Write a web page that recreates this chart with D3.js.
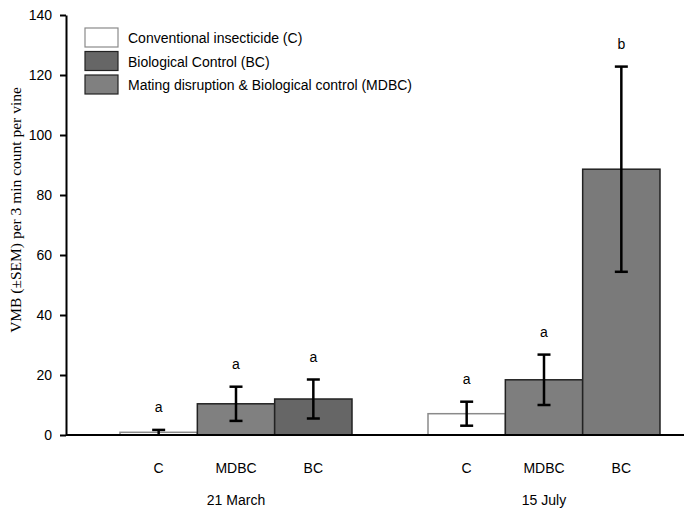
<!DOCTYPE html>
<html>
<head>
<meta charset="utf-8">
<script src="https://cdn.jsdelivr.net/npm/d3@7"></script>
<style>
  body { margin: 0; background: #fff; }
  text { font-family: "Liberation Sans", Arial, sans-serif; }
</style>
</head>
<body>
<div id="chart"></div>
<script>
// data
var dates = ['21 March', '15 July'];
var treatments = ['C', 'MDBC', 'BC'];
var marchMeans = [0.9, 10.4, 12.0];
var marchSem = [0.8, 5.7, 6.5];
var julyMeans = [7.1, 18.4, 88.6];
var julySem = [4.0, 8.4, 34.2];
var marchLetters = ['a', 'a', 'a'];
var julyLetters = ['a', 'a', 'b'];
var yTicks = [0, 20, 40, 60, 80, 100, 120, 140];
var legendLabels = ['Conventional insecticide (C)', 'Biological Control (BC)',
  'Mating disruption & Biological control (MDBC)'];

var fills = {
  '21 March': {C: '#ffffff', MDBC: '#808080', BC: '#666666'},
  '15 July': {C: '#ffffff', MDBC: '#7e7e7e', BC: '#7a7a7a'}
};
var legendFills = ['#ffffff', '#666666', '#808080'];

var width = 684, height = 514;
var margin = {top: 15, right: 0, bottom: 79, left: 66};

var svg = d3.select('#chart').append('svg')
  .attr('width', width)
  .attr('height', height);

var rows = [];
[[marchMeans, marchSem, marchLetters], [julyMeans, julySem, julyLetters]].forEach(function(set, gi) {
  treatments.forEach(function(t, i) {
    rows.push({date: dates[gi], trt: t, mean: set[0][i], sem: set[1][i], letter: set[2][i]});
  });
});

var y = d3.scaleLinear().domain([0, 140]).range([height - margin.bottom, margin.top]);

// each date group is three adjacent bars
var x0 = d3.scaleOrdinal().domain(dates).range([120, 428]);
var x1 = d3.scaleBand().domain(treatments).range([0, 232]);

// y axis
var yAxis = d3.axisLeft(y).tickValues(yTicks).tickSize(6).tickSizeOuter(0).tickPadding(8);
var gy = svg.append('g')
  .attr('transform', 'translate(' + margin.left + ',0)')
  .call(yAxis);
gy.select('.domain').attr('stroke', '#000').attr('stroke-width', 2);
gy.selectAll('.tick line').attr('stroke', '#000').attr('stroke-width', 2);
gy.selectAll('.tick text').style('font-size', '14px').attr('fill', '#000')
  .attr('font-family', '"Liberation Sans", Arial, sans-serif');

// bars
svg.append('g').selectAll('rect')
  .data(rows)
  .enter().append('rect')
  .attr('x', function(d) { return x0(d.date) + x1(d.trt); })
  .attr('width', x1.bandwidth())
  .attr('y', function(d) { return y(d.mean); })
  .attr('height', function(d) { return y(0) - y(d.mean); })
  .attr('fill', function(d) { return fills[d.date][d.trt]; })
  .attr('stroke', function(d) { return d.trt === 'C' ? '#8a8a8a' : '#222'; })
  .attr('stroke-width', 1.5);

// x axis line
svg.append('line')
  .attr('x1', margin.left).attr('x2', width)
  .attr('y1', y(0)).attr('y2', y(0))
  .attr('stroke', '#000').attr('stroke-width', 2);

// error bars
var err = svg.append('g').selectAll('g')
  .data(rows)
  .enter().append('g')
  .attr('transform', function(d) {
    return 'translate(' + (x0(d.date) + x1(d.trt) + x1.bandwidth() / 2) + ',0)';
  });
err.append('line')
  .attr('y1', function(d) { return y(Math.max(0, d.mean - d.sem)); })
  .attr('y2', function(d) { return y(d.mean + d.sem); })
  .attr('stroke', '#000').attr('stroke-width', 2.5);
err.append('line')
  .attr('x1', -6.5).attr('x2', 6.5)
  .attr('y1', function(d) { return y(d.mean + d.sem); })
  .attr('y2', function(d) { return y(d.mean + d.sem); })
  .attr('stroke', '#000').attr('stroke-width', 2.5);
err.filter(function(d) { return d.mean - d.sem > 0.5; }).append('line')
  .attr('x1', -6.5).attr('x2', 6.5)
  .attr('y1', function(d) { return y(d.mean - d.sem); })
  .attr('y2', function(d) { return y(d.mean - d.sem); })
  .attr('stroke', '#000').attr('stroke-width', 2.5);

// significance letters
err.append('text')
  .attr('y', function(d) { return y(d.mean + d.sem) - 18; })
  .attr('text-anchor', 'middle')
  .style('font-size', '14px')
  .text(function(d) { return d.letter; });

// treatment labels
svg.append('g').selectAll('text')
  .data(rows)
  .enter().append('text')
  .attr('x', function(d) { return x0(d.date) + x1(d.trt) + x1.bandwidth() / 2; })
  .attr('y', 473)
  .attr('text-anchor', 'middle')
  .style('font-size', '14px')
  .text(function(d) { return d.trt; });

// date labels
svg.append('g').selectAll('text')
  .data(dates)
  .enter().append('text')
  .attr('x', function(d) { return x0(d) + 116; })
  .attr('y', 505)
  .attr('text-anchor', 'middle')
  .style('font-size', '14px')
  .text(function(d) { return d; });

// y label
svg.append('text')
  .attr('transform', 'translate(21,210) rotate(-90)')
  .attr('text-anchor', 'middle')
  .style('font-family', '"Liberation Serif", "Times New Roman", serif')
  .style('font-size', '15.5px')
  .text('VMB (\u00B1SEM) per 3 min count per vine');

// legend
var legend = svg.append('g').selectAll('g')
  .data(legendLabels)
  .enter().append('g')
  .attr('transform', function(d, i) { return 'translate(85,' + (28 + i * 23.5) + ')'; });
legend.append('rect')
  .attr('width', 33).attr('height', 19)
  .attr('fill', function(d, i) { return legendFills[i]; })
  .attr('stroke', function(d, i) { return i === 0 ? '#8a8a8a' : '#222'; })
  .attr('stroke-width', 1.2);
legend.append('text')
  .attr('x', 43).attr('y', 15)
  .style('font-size', '14px')
  .text(function(d) { return d; });
</script>
</body>
</html>
